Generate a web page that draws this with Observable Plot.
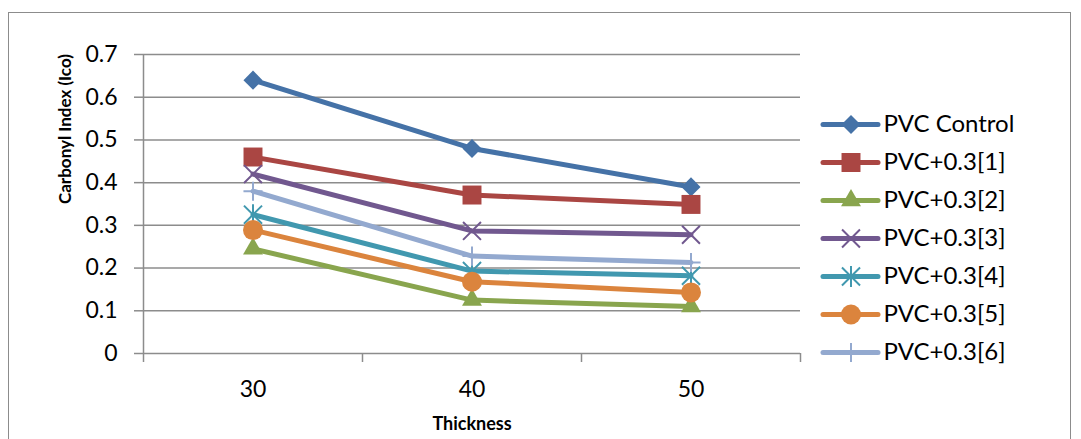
<!DOCTYPE html>
<html>
<head>
<meta charset="utf-8">
<script src="https://cdn.jsdelivr.net/npm/d3@7"></script>
<script src="https://cdn.jsdelivr.net/npm/@observablehq/plot@0.6"></script>
<style>
  html, body { margin: 0; padding: 0; background: #fff; }
  #wrap { position: relative; width: 1081px; height: 439px; overflow: hidden; font-family: Lato, "Open Sans", sans-serif; }
  #border { position: absolute; left: 8px; top: 12px; width: 1063px; height: 440px; border: 1px solid #8c8c8c; box-sizing: border-box; }
  #chart { position: absolute; left: 0; top: 0; }
  #legend { position: absolute; left: 815px; top: 103.6px; }
</style>
</head>
<body>
<div id="wrap"><div id="border"></div><div id="chart"></div><div id="legend"></div></div>
<script>
// ---- data ----
const categories = [30, 40, 50];
const seriesNames = ["PVC Control", "PVC+0.3[1]", "PVC+0.3[2]", "PVC+0.3[3]", "PVC+0.3[4]", "PVC+0.3[5]", "PVC+0.3[6]"];
const pvcControl = [0.64, 0.48, 0.39];
const pvc1 = [0.46, 0.371, 0.349];
const pvc2 = [0.245, 0.125, 0.11];
const pvc3 = [0.42, 0.287, 0.278];
const pvc4 = [0.325, 0.193, 0.182];
const pvc5 = [0.289, 0.168, 0.143];
const pvc6 = [0.38, 0.228, 0.213];
const seriesValues = [pvcControl, pvc1, pvc2, pvc3, pvc4, pvc5, pvc6];
const colors = ["#4572a7", "#aa4643", "#89a54e", "#71588f", "#4198af", "#db843d", "#93a9cf"];
// Excel-style asterisk: an × plus a vertical bar
const excelAsterisk = {
  draw(context, size) {
    const r = Math.sqrt(size) * 0.6;
    context.moveTo(-r, -r); context.lineTo(r, r);
    context.moveTo(-r, r); context.lineTo(r, -r);
    context.moveTo(0, -r * 1.15); context.lineTo(0, r * 1.15);
  }
};
const symbols = ["diamond2", "square", "triangle", "times", excelAsterisk, "circle", "plus"];
const symbolR = [8.6, 10.7, 7.4, 8.2, 8.5, 10, 6.2];
const strokeSymbols = new Set(["times", excelAsterisk, "plus"]);
const yTicks = [0, 0.1, 0.2, 0.3, 0.4, 0.5, 0.6, 0.7];
const xTicks = [30, 40, 50];
const xBoundaries = [25, 35, 45, 55];
const xDomain = [25, 55];
const yLabel = "Carbonyl Index (Ico)";
const xLabel = "Thickness";

// ---- table ----
const rows = [];
seriesNames.forEach((name, i) => {
  categories.forEach((c, j) => rows.push({series: name, idx: i, x: c, y: seriesValues[i][j]}));
});

const gridColor = "#8c8c8c";
const marks = [
  Plot.gridY(yTicks.slice(1), {stroke: gridColor, strokeOpacity: 1, strokeWidth: 1.5}),
  Plot.ruleY([0], {stroke: gridColor, strokeWidth: 1.5}),
  Plot.ruleX([xDomain[0]], {stroke: gridColor, strokeWidth: 1.5}),
  Plot.axisY(yTicks, {tickSize: 9, tickPadding: 17, stroke: gridColor, strokeWidth: 1.5, label: null,
    tickFormat: d => String(d), fontSize: 23, fill: "#000"}),
  Plot.axisX(xBoundaries, {tickSize: 9, stroke: gridColor, strokeWidth: 1.5, tickFormat: () => "", label: null}),
  Plot.axisX(xTicks, {tickSize: 0, tickPadding: 27, label: null, tickFormat: d => String(d), fontSize: 23, fill: "#000"}),
  Plot.text([yLabel], {text: d => d, frameAnchor: "left", rotate: -90, dx: -78, fontWeight: "bold", fontSize: 17, lineAnchor: "middle", fill: "#000"}),
  Plot.text([xLabel], {text: d => d, frameAnchor: "bottom", dy: 71, fontWeight: "bold", fontSize: 18, lineAnchor: "middle", fill: "#000"})
];
seriesNames.forEach((name, i) => {
  const data = rows.filter(r => r.idx === i);
  marks.push(Plot.line(data, {x: "x", y: "y", stroke: colors[i], strokeWidth: 5, strokeLinejoin: "round", strokeLinecap: "round"}));
  const isStroke = strokeSymbols.has(symbols[i]);
  marks.push(Plot.dot(data, {x: "x", y: "y", symbol: symbols[i], r: symbolR[i],
    fill: isStroke ? "none" : colors[i], stroke: isStroke ? colors[i] : "none", strokeWidth: isStroke ? 2 : 0}));
});

const chart = Plot.plot({
  width: 1081, height: 439,
  marginLeft: 143, marginRight: 281, marginTop: 54, marginBottom: 86,
  x: {type: "linear", domain: xDomain},
  y: {domain: [0, 0.7]},
  style: {fontFamily: "Lato, 'Open Sans', sans-serif", fontSize: "23px", color: "#000", background: "transparent", overflow: "visible"},
  marks
});
document.getElementById("chart").appendChild(chart);

// ---- legend ----
const legendRows = seriesNames.map((name, i) => ({name, i}));
const legendMarks = [];
legendRows.forEach(d => {
  legendMarks.push(Plot.ruleY([d], {y: "name", x1: 0, x2: 1, stroke: colors[d.i], strokeWidth: 5, strokeLinecap: "round"}));
  const isStroke = strokeSymbols.has(symbols[d.i]);
  legendMarks.push(Plot.dot([d], {x: 0.5, y: "name", symbol: symbols[d.i], r: symbolR[d.i],
    fill: isStroke ? "none" : colors[d.i], stroke: isStroke ? colors[d.i] : "none", strokeWidth: isStroke ? 2 : 0}));
});
legendMarks.push(Plot.text(legendRows, {x: 1, y: "name", text: "name", dx: 5, textAnchor: "start", fontSize: 24, fill: "#000"}));

const legend = Plot.plot({
  width: 266, height: 268.6,
  marginLeft: 8, marginRight: 203, marginTop: 20, marginBottom: 20,
  x: {domain: [0, 1], axis: null},
  y: {type: "point", domain: seriesNames, padding: 0, axis: null},
  style: {fontFamily: "Lato, 'Open Sans', sans-serif", fontSize: "24px", color: "#000", background: "transparent", overflow: "visible"},
  marks: legendMarks
});
document.getElementById("legend").appendChild(legend);
</script>
</body>
</html>
